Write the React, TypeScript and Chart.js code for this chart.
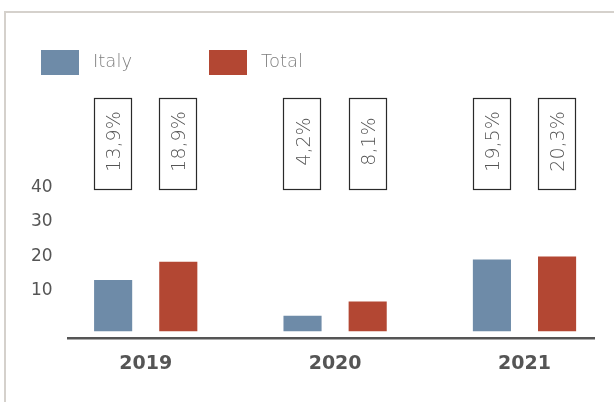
import React, { useEffect, useRef } from "react";
import { Chart, registerables } from "chart.js";

Chart.register(...registerables);

const years = ["2019", "2020", "2021"];
const seriesNames = ["Italy", "Total"];
const italy = [13.9, 4.2, 19.5];
const total = [18.9, 8.1, 20.3];
const italyLabels = ["13,9%", "4,2%", "19,5%"];
const totalLabels = ["18,9%", "8,1%", "20,3%"];
const yTicks = [10, 20, 30, 40];
const colors = ["#6e8ba8", "#b34733"];

const FONT = "'DejaVu Sans', 'Open Sans', sans-serif";

const pctBoxes = {
  id: "pctBoxes",
  afterDatasetsDraw(chart: any) {
    const { ctx, chartArea } = chart;
    const top = chartArea.top - 86;
    const h = 91;
    chart.data.datasets.forEach((ds: any, d: number) => {
      const meta = chart.getDatasetMeta(d);
      meta.data.forEach((bar: any, i: number) => {
        const { x, width } = bar.getProps(["x", "width"], true);
        const left = Math.round(x - width / 2) + 0.5;
        const w = Math.round(width) - 1;
        ctx.save();
        ctx.fillStyle = "#ffffff";
        ctx.fillRect(left, top, w, h);
        ctx.strokeStyle = "#2a2a2a";
        ctx.lineWidth = 1.2;
        ctx.strokeRect(left, top + 0.5, w, h);
        ctx.translate(x + 7, top + h / 2 - 2);
        ctx.rotate(-Math.PI / 2);
        ctx.fillStyle = "#555555";
        ctx.font = `200 19px ${FONT}`;
        ctx.textAlign = "center";
        ctx.textBaseline = "alphabetic";
        ctx.fillText(ds.pctLabels[i], 0, 0);
        ctx.restore();
      });
    });
  },
};

const customLegend = {
  id: "customLegend",
  afterDraw(chart: any) {
    const { ctx } = chart;
    chart.data.datasets.forEach((ds: any, d: number) => {
      const bx = 41 + d * 168;
      ctx.save();
      ctx.fillStyle = ds.backgroundColor;
      ctx.fillRect(bx, 50, 38, 25);
      ctx.fillStyle = "#7f7f7f";
      ctx.font = `200 18px ${FONT}`;
      ctx.textAlign = "left";
      ctx.textBaseline = "middle";
      ctx.fillText(ds.label, bx + 52, 62);
      ctx.restore();
    });
  },
};

export default function App() {
  const ref = useRef<HTMLCanvasElement>(null);

  useEffect(() => {
    if (!ref.current) return;
    const chart = new Chart(ref.current, {
      type: "bar",
      data: {
        datasets: [
          {
            label: seriesNames[0],
            data: italy.map((v, i) => ({ x: i, y: v })),
            backgroundColor: colors[0],
            pctLabels: italyLabels,
            yAxisID: "y",
          } as any,
          {
            label: seriesNames[1],
            data: total.map((v, i) => ({ x: i, y: v })),
            backgroundColor: colors[1],
            pctLabels: totalLabels,
            yAxisID: "y",
          } as any,
        ],
      },
      options: {
        animation: false,
        responsive: false,
        datasets: { bar: { categoryPercentage: 0.688, barPercentage: 0.585 } },
        layout: { padding: { top: 184, right: 20, bottom: 13, left: 15 } },
        plugins: { legend: { display: false }, tooltip: { enabled: false } },
        scales: {
          x: {
            type: "linear",
            offset: false,
            min: -0.407,
            max: 2.367,
            grid: { display: false, drawTicks: false, offset: false },
            border: { display: true, color: "#555555", width: 2.5 },
            afterBuildTicks: (s: any) => {
              s.ticks = years.map((_, i) => ({ value: i }));
            },
            ticks: {
              callback: (v: any) => years[v],
              font: { family: FONT, weight: "bold", size: 19 },
              color: "#555555",
              padding: 14,
              autoSkip: false,
              maxRotation: 0,
            },
          },
          y: { display: false, min: -1.9, max: 40 },
          yl: {
            position: "left",
            min: -4.1,
            max: 41.18,
            grid: { display: false, drawTicks: false },
            border: { display: false },
            afterBuildTicks: (s: any) => {
              s.ticks = yTicks.map((v) => ({ value: v }));
            },
            ticks: {
              font: { family: FONT, size: 17 },
              color: "#555555",
              padding: 16,
            },
          },
        } as any,
      },
      plugins: [pctBoxes, customLegend],
    });
    return () => chart.destroy();
  }, []);

  return (
    <div
      style={{
        position: "absolute",
        left: 0,
        top: 0,
        width: 614,
        height: 402,
        overflow: "hidden",
        background: "#fff",
      }}
    >
      <div
        style={{
          position: "absolute",
          left: 4,
          top: 11,
          width: 700,
          height: 500,
          borderTop: "2px solid #d5d1cc",
          borderLeft: "2px solid #d5d1cc",
        }}
      />
      <canvas
        ref={ref}
        width={614}
        height={402}
        style={{ position: "absolute", left: 0, top: 0, width: 614, height: 402 }}
      />
    </div>
  );
}
